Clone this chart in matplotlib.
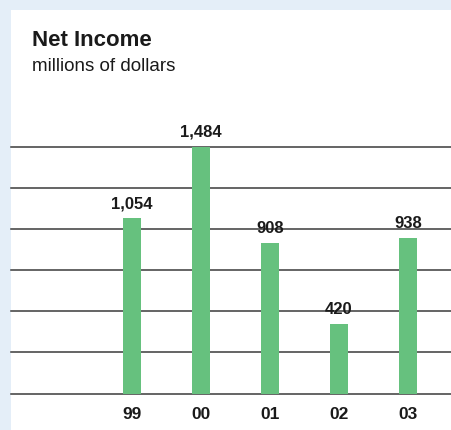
import numpy as np
import matplotlib.pyplot as plt

# Net income by fiscal year (millions of dollars)
years = ['99', '00', '01', '02', '03']
income = [1054, 1484, 908, 420, 938]
value_labels = ['1,054', '1,484', '908', '420', '938']

W, H = 451, 431
fig = plt.figure(figsize=(W / 100, H / 100), dpi=100)
fig.patch.set_facecolor('#e4eef8')

# white card on the light blue page
card = fig.add_axes([11 / W, 0, 1 - 11 / W, (H - 11) / H])
card.set_facecolor('white')
card.set_xticks([])
card.set_yticks([])
for s in card.spines.values():
    s.set_visible(False)
card.set_zorder(0)

fig.text(32 / W, 1 - 46.5 / H, 'Net Income', fontsize=16, fontweight='bold',
         family='Liberation Sans', color='#1a1a1a', va='baseline')
fig.text(32 / W, 1 - 71 / H, 'millions of dollars', fontsize=13.5,
         family='Liberation Sans', color='#1a1a1a', va='baseline')

bottom = (H - 394.5) / H
top = (H - 148) / H
ax = fig.add_axes([11 / W, bottom, 1 - 11 / W, top - bottom])
ax.set_facecolor('none')
ax.set_zorder(1)

# six equal bands, the top rule sitting on the tallest bar
ymax = max(income)
for lvl in np.linspace(0, ymax, 7):
    ax.axhline(lvl, color='#3a3a3a', linewidth=1.1, zorder=1, clip_on=False)

x = list(range(len(years)))
ax.bar(x, income, width=18 / 69, color='#66c17e', zorder=2)

for xi, v, lab in zip(x, income, value_labels):
    ax.annotate(lab, (xi, v), xytext=(0, 8), textcoords='offset points',
                ha='center', va='baseline', fontsize=12, fontweight='bold',
                family='Liberation Sans', color='#1a1a1a')

ax.set_xlim(-(132 - 11) / 69, (451 - 132) / 69)
ax.set_ylim(0, ymax)
ax.set_xticks(x)
ax.set_xticklabels(years, fontsize=12.5, fontweight='bold',
                   family='Liberation Sans', color='#1a1a1a')
ax.tick_params(axis='x', length=0, pad=9)
ax.set_yticks([])
for s in ax.spines.values():
    s.set_visible(False)

fig.savefig('out.png', dpi=100, facecolor=fig.get_facecolor())
